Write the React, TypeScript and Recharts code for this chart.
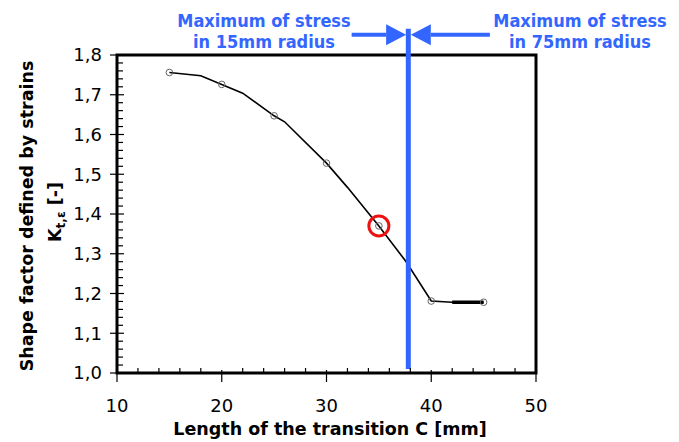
import React from 'react';
import {
  LineChart,
  Line,
  XAxis,
  YAxis,
  ReferenceLine,
  ReferenceDot,
  ReferenceArea,
  Label,
} from 'recharts';

// Length of the transition C [mm] and the matching strain shape factor
const transitionLength = [15, 18, 20, 22, 25, 26, 30, 32, 35, 37.6, 40, 42, 45];
const shapeFactor = [1.756, 1.748, 1.726, 1.704, 1.647, 1.632, 1.528, 1.467, 1.37, 1.28, 1.181, 1.178, 1.178];
// computed points that carry an open-circle marker
const measuredPoints = [15, 20, 25, 30, 35, 40, 45];
// flat tail drawn with a heavier stroke
const plateauLength = [42, 45];
const plateauFactor = [1.178, 1.178];

const xMajorTicks = [10, 20, 30, 40, 50];
const yMajorTicks = [1.0, 1.1, 1.2, 1.3, 1.4, 1.5, 1.6, 1.7, 1.8];

const highlightedLength = 35;
const highlightedFactor = 1.37;
const stressMaxLength = 37.81;

const leftNote = ['Maximum of stress', 'in 15mm radius'];
const rightNote = ['Maximum of stress', 'in 75mm radius'];

const BLUE = '#3366ff';
const TICK_FONT = '"DejaVu Sans", sans-serif';
const NOTE_FONT = '"DejaVu Sans Condensed", "DejaVu Sans", sans-serif';

// minor ticks subdivide each major step into five
const subdivide = (majors: number[], parts: number) => {
  const out: number[] = [];
  for (let i = 0; i < majors.length - 1; i++) {
    const step = (majors[i + 1] - majors[i]) / parts;
    for (let j = 0; j < parts; j++) out.push(Math.round((majors[i] + j * step) * 1000) / 1000);
  }
  out.push(majors[majors.length - 1]);
  return out;
};
const xTicks = subdivide(xMajorTicks, 5);
const yTicks = subdivide(yMajorTicks, 5);

const isMajor = (v: number, majors: number[]) => majors.some((m) => Math.abs(m - v) < 1e-6);

const rows = transitionLength.map((x, i) => ({
  x,
  k: shapeFactor[i],
  marked: measuredPoints.includes(x),
}));
const plateauRows = plateauLength.map((x, i) => ({ x, k: plateauFactor[i] }));

const XTick = (props: any) => {
  const { x, y, payload } = props;
  const v = payload.value as number;
  if (isMajor(v, xMajorTicks)) {
    return (
      <g>
        <line x1={x} y1={y - 3} x2={x} y2={y + 9} stroke="#000" strokeWidth={1.2} />
        <text x={x} y={y + 39} textAnchor="middle" fontFamily={TICK_FONT} fontSize={18} fill="#000">
          {v}
        </text>
      </g>
    );
  }
  return <line x1={x} y1={y} x2={x} y2={y - 5} stroke="#000" strokeWidth={1.2} />;
};

const YTick = (props: any) => {
  const { x, y, payload } = props;
  const v = payload.value as number;
  if (isMajor(v, yMajorTicks)) {
    return (
      <g>
        <line x1={x - 7} y1={y} x2={x + 7} y2={y} stroke="#000" strokeWidth={1.2} />
        <text x={x - 15} y={y} dy="0.36em" textAnchor="end" fontFamily={TICK_FONT} fontSize={18} fill="#000">
          {v.toFixed(1).replace('.', ',')}
        </text>
      </g>
    );
  }
  return <line x1={x} y1={y} x2={x + 6} y2={y} stroke="#000" strokeWidth={1.2} />;
};

const renderDot = (p: any) =>
  p.payload && p.payload.marked ? (
    <circle key={`dot-${p.index}`} cx={p.cx} cy={p.cy} r={3.3} fill="none" stroke="#666" strokeWidth={1} />
  ) : (
    <g key={`dot-${p.index}`} />
  );

const ArrowShape = (props: any) => {
  const { x1, y1, x2, y2 } = props;
  const dir = x2 > x1 ? 1 : -1;
  const head = 20;
  const half = 10.5;
  const baseX = x2 - dir * head;
  return (
    <g>
      <line x1={x1} y1={y1} x2={baseX} y2={y2} stroke={BLUE} strokeWidth={4} />
      <polygon points={`${x2},${y2} ${baseX},${y2 - half} ${baseX},${y2 + half}`} fill={BLUE} />
    </g>
  );
};

const noteShape = (lines: string[]) => (p: any) => (
  <g>
    {lines.map((t, i) => (
      <text
        key={t}
        x={p.cx}
        y={p.cy - 28 + i * 21}
        textAnchor="middle"
        fontFamily={NOTE_FONT}
        fontWeight="bold"
        fontSize={18}
        fill={BLUE}
      >
        {t}
      </text>
    ))}
  </g>
);

const YTitle = (props: any) => {
  const vb = props.viewBox || { x: 0, y: 55, width: 117, height: 318 };
  const cy = vb.y + vb.height / 2;
  const l1x = vb.x + 33;
  const l2x = vb.x + 61;
  return (
    <g fontFamily={TICK_FONT} fontWeight="bold" fill="#000">
      <text x={l1x} y={cy + 2} transform={`rotate(-90 ${l1x} ${cy + 2})`} textAnchor="middle" fontSize={17.5}>
        Shape factor defined by strains
      </text>
      <text x={l2x} y={cy - 2} transform={`rotate(-90 ${l2x} ${cy - 2})`} textAnchor="middle" fontSize={17.5}>
        K
        <tspan fontSize={12} dy={4}>t,ε</tspan>
        <tspan dy={-4}> [-]</tspan>
      </text>
    </g>
  );
};

const XTitle = (props: any) => {
  const vb = props.viewBox || { x: 117, y: 373, width: 419, height: 69 };
  return (
    <text
      x={vb.x + 213}
      y={vb.y + 62}
      textAnchor="middle"
      fontFamily={TICK_FONT}
      fontWeight="bold"
      fontSize={17.5}
      fill="#000"
    >
      Length of the transition C [mm]
    </text>
  );
};

export default function App() {
  return (
    <div style={{ position: 'absolute', left: 0, top: 0, width: 679, height: 442, background: '#fff' }}>
      <LineChart width={679} height={442} data={rows} margin={{ top: 55, right: 143, bottom: 0, left: 0 }}>
        <XAxis
          type="number"
          dataKey="x"
          domain={[10, 50]}
          ticks={xTicks}
          interval={0}
          allowDataOverflow
          axisLine={false}
          tickLine={false}
          tickSize={0}
          tickMargin={0}
          height={69}
          tick={XTick}
          label={<Label content={XTitle} />}
        />
        <YAxis
          type="number"
          domain={[1, 1.8]}
          ticks={yTicks}
          interval={0}
          allowDataOverflow
          axisLine={false}
          tickLine={false}
          tickSize={0}
          tickMargin={0}
          width={117}
          tick={YTick}
          label={<Label content={YTitle} />}
        />
        <ReferenceArea x1={10} x2={50} y1={1} y2={1.8} fill="none" stroke="#000" strokeWidth={3} ifOverflow="visible" />
        <Line
          data={plateauRows}
          dataKey="k"
          stroke="#000"
          strokeWidth={3.5}
          dot={false}
          activeDot={false}
          isAnimationActive={false}
        />
        <Line
          dataKey="k"
          stroke="#000"
          strokeWidth={1.6}
          dot={renderDot}
          activeDot={false}
          isAnimationActive={false}
        />
        <ReferenceDot
          x={highlightedLength}
          y={highlightedFactor}
          r={10}
          fill="none"
          stroke="#ee1111"
          strokeWidth={3}
          ifOverflow="visible"
        />
        <ReferenceLine
          segment={[
            { x: stressMaxLength, y: 1.01 },
            { x: stressMaxLength, y: 1.866 },
          ]}
          stroke={BLUE}
          strokeWidth={5}
          ifOverflow="visible"
        />
        <ReferenceLine
          segment={[
            { x: 32.4, y: 1.851 },
            { x: 37.6, y: 1.851 },
          ]}
          ifOverflow="visible"
          shape={ArrowShape}
        />
        <ReferenceLine
          segment={[
            { x: 45.6, y: 1.851 },
            { x: 38.05, y: 1.851 },
          ]}
          ifOverflow="visible"
          shape={ArrowShape}
        />
        <ReferenceDot x={24.03} y={1.8} r={0} ifOverflow="visible" shape={noteShape(leftNote)} />
        <ReferenceDot x={54.2} y={1.8} r={0} ifOverflow="visible" shape={noteShape(rightNote)} />
      </LineChart>
    </div>
  );
}
